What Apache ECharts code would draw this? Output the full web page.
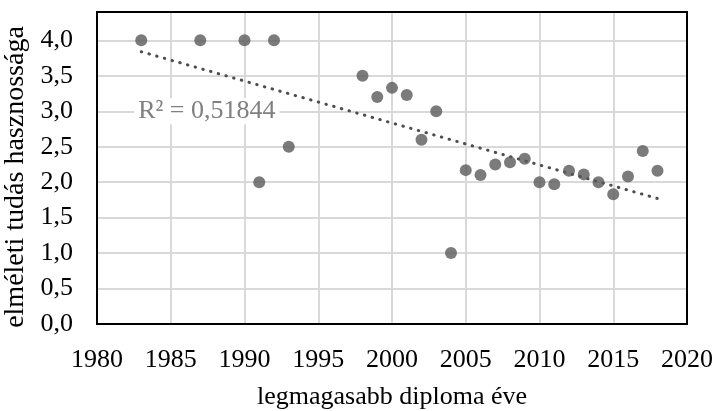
<!DOCTYPE html>
<html><head><meta charset="utf-8">
<script src="https://cdn.jsdelivr.net/npm/echarts@6/dist/echarts.min.js"></script>
<style>html,body{margin:0;padding:0;background:#fff}#c{width:714px;height:411px}</style>
</head><body><div id="c"></div>
<script>
const years = [1983,1987,1990,1991,1992,1993,1998,1999,2000,2001,2002,2003,2004,2005,2006,2007,2008,2009,2010,2011,2012,2013,2014,2015,2016,2017,2018];
const values = [4.0,4.0,4.0,2.0,4.0,2.5,3.5,3.2,3.33,3.23,2.6,3.0,1.0,2.17,2.1,2.25,2.28,2.33,2.0,1.97,2.16,2.11,2.0,1.83,2.08,2.44,2.16];
const trendYears = [1983, 2018];
const trendValues = [3.84, 1.77];
const r2Label = 'R² = 0,51844';
const r2Pos = [1987.45, 3.0];
const xTicks = {min:1980, max:2020, interval:5};
const yTicks = {min:0, max:4.4, interval:0.5};

const font = '"Liberation Serif", "DejaVu Serif", serif';
const fs = 26;
const chart = echarts.init(document.getElementById('c'), null, {renderer:'canvas'});
chart.setOption({
  animation:false,
  textStyle:{fontFamily:font},
  grid:{left:97, right:27, top:12, bottom:87, show:true, borderColor:'#000', borderWidth:2, z:5,
        containLabel:false, outerBoundsMode:'none'},
  xAxis:{type:'value', min:xTicks.min, max:xTicks.max, interval:xTicks.interval,
    name:'legmagasabb diploma éve', nameLocation:'middle', nameGap:60,
    nameTextStyle:{fontFamily:font, fontSize:fs, color:'#000'},
    axisLine:{lineStyle:{color:'#000', width:2}}, axisTick:{show:false},
    axisLabel:{fontFamily:font, fontSize:fs, color:'#000', margin:23, formatter:v=>String(v), hideOverlap:false},
    splitLine:{lineStyle:{color:'#d9d9d9', width:2}}},
  yAxis:{type:'value', min:yTicks.min, max:yTicks.max, interval:yTicks.interval,
    name:'elméleti tudás hasznossága', nameLocation:'middle', nameGap:64,
    nameTextStyle:{fontFamily:font, fontSize:28, color:'#000', padding:[0,18,0,0]},
    axisLine:{show:true, lineStyle:{color:'#000', width:2}}, axisTick:{show:false},
    axisLabel:{fontFamily:font, fontSize:fs, color:'#000', margin:24, showMaxLabel:false,
      formatter:v=>v.toFixed(1).replace('.',',')},
    splitLine:{lineStyle:{color:'#d9d9d9', width:2}}},
  series:[
    {type:'line', data:trendYears.map((y,i)=>[y,trendValues[i]]), symbol:'none', silent:true,
     lineStyle:{color:'#4d4d4d', width:3, type:[0.5,7.5], cap:'round'}, z:3,
     markPoint:{symbol:'rect', symbolSize:1, itemStyle:{color:'transparent'},
       data:[{coord:r2Pos, value:r2Label}],
       label:{show:true, formatter:r2Label, position:'inside', fontFamily:font, fontSize:fs, color:'#808080', backgroundColor:'#fff', padding:[0,4]}}},
    {type:'scatter', data:years.map((y,i)=>[y,values[i]]), symbolSize:12,
     itemStyle:{color:'#5a5a5a'}, z:4}
  ]
});
</script></body></html>
